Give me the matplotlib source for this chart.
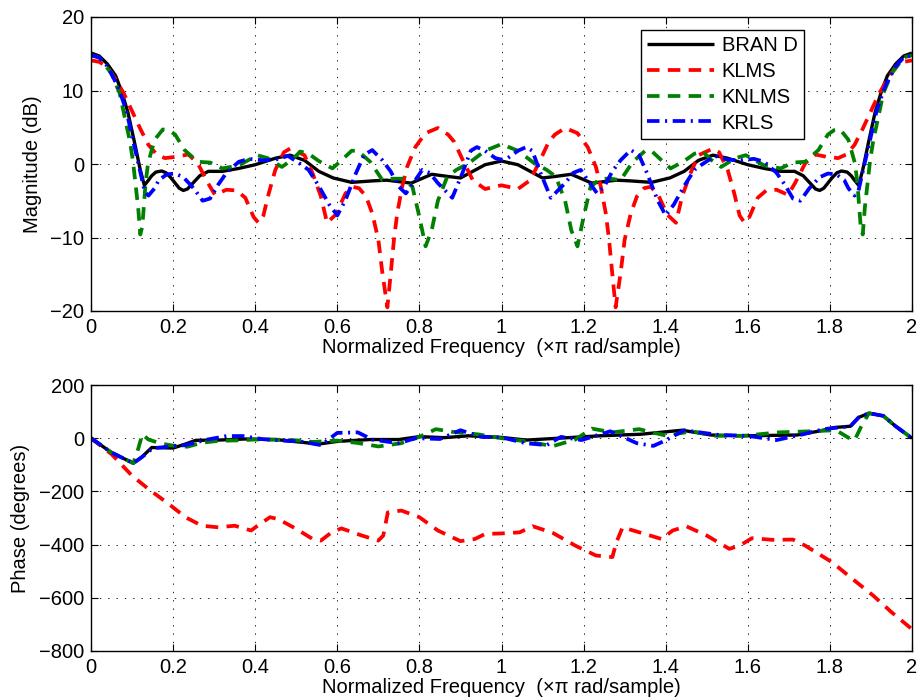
import matplotlib
matplotlib.use("Agg")
import matplotlib.pyplot as plt

plt.rcParams['font.family'] = ['Liberation Sans', 'DejaVu Sans']
plt.rcParams['lines.scale_dashes'] = False

series_names = ["BRAN D", "KLMS", "KNLMS", "KRLS"]

# ---------------- Magnitude (dB) ----------------
mag_x_brand = [0.00, 0.02, 0.04, 0.06, 0.075, 0.09, 0.105, 0.12, 0.13, 0.14, 0.148, 0.158, 0.172, 0.183,
               0.195, 0.205, 0.215, 0.225, 0.235, 0.245, 0.265, 0.286, 0.32, 0.36, 0.40, 0.45, 0.485,
               0.52, 0.555, 0.59, 0.635, 0.685, 0.72, 0.75, 0.78, 0.805, 0.83, 0.87, 0.90, 0.93,
               0.96, 1.00,
               1.04, 1.07, 1.10, 1.13, 1.17, 1.195, 1.22, 1.25, 1.28, 1.315, 1.365, 1.41, 1.445,
               1.48, 1.515, 1.55, 1.60, 1.64, 1.68, 1.714, 1.735, 1.755, 1.765, 1.775, 1.785, 1.795,
               1.805, 1.817, 1.828, 1.842, 1.852, 1.86, 1.87, 1.88, 1.895, 1.91, 1.925, 1.94, 1.96,
               1.98, 2.00]
mag_y_brand = [15.1, 14.7, 13.6, 12.0, 9.8, 7.0, 3.2, -0.8, -2.9, -2.2, -1.6, -1.1, -0.95, -1.2,
               -1.9, -2.6, -3.3, -3.6, -3.4, -2.8, -1.6, -1.0, -1.0, -0.6, -0.1, 0.8, 1.2,
               0.5, -1.0, -1.9, -2.5, -2.3, -2.2, -2.4, -2.6, -2.0, -1.4, -1.7, -1.9, -1.0,
               -0.1, 0.4,
               -0.1, -1.0, -1.9, -1.7, -1.4, -2.0, -2.6, -2.4, -2.2, -2.3, -2.5, -1.9, -1.0,
               0.5, 1.2, 0.8, -0.1, -0.6, -1.0, -1.0, -1.6, -2.8, -3.4, -3.6, -3.3, -2.6,
               -1.9, -1.2, -0.95, -1.1, -1.6, -2.2, -2.9, -0.8, 3.2, 7.0, 9.8, 12.0, 13.6,
               14.7, 15.1]

mag_x_klms = [0.00, 0.02, 0.04, 0.06, 0.08, 0.10, 0.12, 0.14, 0.16, 0.18, 0.21, 0.237, 0.26, 0.285,
              0.302, 0.33, 0.355, 0.376, 0.396, 0.408, 0.42, 0.433, 0.449, 0.47, 0.485, 0.52, 0.54,
              0.56, 0.575, 0.596, 0.62, 0.637, 0.653, 0.67, 0.685, 0.70, 0.71, 0.722, 0.73, 0.738,
              0.746, 0.758, 0.77, 0.79, 0.815, 0.845, 0.87, 0.885, 0.906, 0.93, 0.96, 1.00,
              1.04, 1.07, 1.094, 1.115, 1.13, 1.155, 1.185, 1.21, 1.23, 1.242, 1.254, 1.262, 1.27,
              1.278, 1.29, 1.30, 1.315, 1.33, 1.347, 1.363, 1.38, 1.404, 1.425, 1.44, 1.46, 1.48,
              1.515, 1.53, 1.551, 1.567, 1.58, 1.592, 1.604, 1.624, 1.645, 1.67, 1.698, 1.715,
              1.74, 1.763, 1.79, 1.82, 1.84, 1.86, 1.88, 1.90, 1.92, 1.94, 1.96, 1.98, 2.00]
mag_y_klms = [14.1, 13.9, 13.2, 11.5, 9.6, 7.2, 4.8, 2.6, 1.3, 0.8, 1.0, 1.3, 0.1, -2.6,
              -4.2, -3.5, -3.6, -4.6, -7.2, -8.0, -7.0, -4.0, -0.8, 1.6, 2.1, 1.2, -1.3,
              -4.4, -8.0, -6.9, -4.0, -3.1, -3.3, -4.4, -6.7, -10.3, -14.9, -19.5, -15.0, -10.3,
              -6.7, -3.1, -0.4, 2.3, 4.2, 4.9, 4.0, 3.0, 0.5, -2.2, -3.4, -2.9,
              -3.4, -2.2, 0.5, 3.0, 4.0, 4.9, 4.2, 2.3, -0.4, -3.1, -6.7, -10.3, -15.0,
              -19.5, -14.9, -10.3, -6.7, -4.4, -3.3, -3.1, -4.0, -6.9, -8.0, -4.4, -1.3, 1.2,
              2.1, 1.6, -0.8, -4.0, -7.0, -8.0, -7.2, -4.6, -3.6, -3.5, -4.2, -2.6,
              0.1, 1.3, 1.0, 0.8, 1.3, 2.6, 4.8, 7.2, 9.6, 11.5, 13.2, 13.9, 14.1]

mag_x_knlms = [0.00, 0.02, 0.05, 0.07, 0.082, 0.094, 0.102, 0.11, 0.115, 0.12, 0.125, 0.133, 0.139,
               0.155, 0.175, 0.19, 0.205, 0.228, 0.26, 0.29, 0.32, 0.36, 0.405, 0.43, 0.465, 0.49,
               0.51, 0.53, 0.555, 0.588, 0.61, 0.635, 0.65, 0.68, 0.71, 0.735, 0.76, 0.783, 0.80,
               0.815, 0.83, 0.845, 0.868, 0.89, 0.92, 0.96, 1.00,
               1.04, 1.08, 1.11, 1.132, 1.155, 1.17, 1.185, 1.20, 1.217, 1.24, 1.265, 1.29, 1.32,
               1.35, 1.365, 1.39, 1.412, 1.445, 1.47, 1.49, 1.51, 1.535, 1.57, 1.595, 1.64, 1.68,
               1.71, 1.74, 1.772, 1.795, 1.81, 1.825, 1.845, 1.861, 1.867, 1.875, 1.88, 1.885,
               1.89, 1.898, 1.906, 1.918, 1.93, 1.95, 1.98, 2.00]
mag_y_knlms = [14.8, 14.5, 12.3, 9.6, 6.4, 3.3, 0.5, -3.5, -6.0, -9.6, -8.5, -2.6, 0.1,
               3.3, 4.7, 4.6, 4.0, 1.9, 0.3, 0.2, -0.6, -0.2, 1.2, 0.8, -0.4, 0.6,
               1.7, 1.4, 0.4, -0.6, 0.5, 1.8, 1.8, 0.3, -2.2, -2.0, -2.0, -3.1, -7.2,
               -11.2, -9.0, -5.0, -1.7, -0.8, 0.1, 1.8, 2.7,
               1.8, 0.1, -0.8, -1.7, -5.0, -9.0, -11.2, -7.2, -3.1, -2.0, -2.0, -2.2, 0.3,
               1.8, 1.8, 0.5, -0.6, 0.4, 1.4, 1.7, 0.6, -0.4, 0.8, 1.2, -0.2, -0.6,
               0.2, 0.3, 1.9, 4.0, 4.6, 4.7, 3.3, 0.1, -2.6, -8.5, -9.6, -6.0,
               -3.5, 0.5, 3.3, 6.4, 9.6, 12.3, 14.5, 14.8]

mag_x_krls = [0.00, 0.02, 0.04, 0.066, 0.086, 0.102, 0.119, 0.131, 0.14, 0.155, 0.165, 0.185, 0.205,
              0.225, 0.25, 0.272, 0.29, 0.31, 0.33, 0.36, 0.385, 0.42, 0.45, 0.48, 0.51, 0.53,
              0.555, 0.58, 0.60, 0.62, 0.645, 0.665, 0.685, 0.71, 0.73, 0.75, 0.767, 0.79, 0.807,
              0.825, 0.845, 0.88, 0.905, 0.925, 0.94, 0.96, 0.985, 1.00,
              1.015, 1.04, 1.06, 1.075, 1.095, 1.12, 1.155, 1.175, 1.193, 1.21, 1.233, 1.25, 1.27,
              1.29, 1.315, 1.335, 1.355, 1.38, 1.40, 1.42, 1.445, 1.47, 1.49, 1.52, 1.55, 1.58,
              1.615, 1.64, 1.67, 1.69, 1.71, 1.728, 1.75, 1.775, 1.795, 1.815, 1.835, 1.845, 1.86,
              1.869, 1.881, 1.898, 1.914, 1.934, 1.96, 1.98, 2.00]
mag_y_krls = [14.8, 14.5, 13.3, 10.5, 7.3, 3.3, -0.8, -3.8, -4.3, -3.3, -2.2, -1.4, -1.3,
              -1.8, -3.3, -5.0, -4.7, -2.8, -1.2, 0.3, 0.7, 0.5, 0.6, 1.1, 0.0, -0.8,
              -3.0, -5.5, -7.0, -4.9, -1.3, 1.2, 1.9, 0.5, -1.0, -3.1, -4.0, -2.2, -0.8,
              -1.2, -2.6, -4.6, -1.2, 1.8, 2.3, 1.8, 0.8, 0.6,
              0.8, 1.8, 2.3, 1.8, -1.2, -4.6, -2.6, -1.2, -0.8, -2.2, -4.0, -3.1, -1.0,
              0.5, 1.9, 1.2, -1.3, -4.9, -7.0, -5.5, -3.0, -0.8, 0.0, 1.1, 0.6, 0.5,
              0.7, 0.3, -1.2, -2.8, -4.7, -5.0, -3.3, -1.8, -1.3, -1.4, -2.2, -3.3, -4.3,
              -3.8, -0.8, 3.3, 7.3, 10.5, 13.3, 14.5, 14.8]

# ---------------- Phase (degrees) ----------------
ph_x_brand = [0.00, 0.05, 0.103, 0.123, 0.148, 0.20, 0.23, 0.255, 0.31, 0.375, 0.45, 0.505, 0.555,
              0.60, 0.68, 0.75, 0.80, 0.86, 0.92, 1.00, 1.06, 1.14, 1.24, 1.34, 1.44, 1.51, 1.59,
              1.72, 1.775, 1.81, 1.85, 1.87, 1.895, 1.93, 1.96, 2.00]
ph_y_brand = [0, -54, -94, -72, -35, -37, -22, -8, -7, -3, -5, -14, -22,
              -12, -5, -5, 6, 2, 9, 3, -7, 0, 9, 15, 30, 12, 9,
              12, 27, 40, 45, 78, 94, 84, 45, 0]

ph_x_klms = [0.00, 0.05, 0.10, 0.14, 0.19, 0.23, 0.27, 0.31, 0.35, 0.39, 0.405, 0.436, 0.456, 0.50,
             0.54, 0.56, 0.586, 0.61, 0.66, 0.70, 0.712, 0.723, 0.756, 0.80, 0.845, 0.90, 0.935,
             0.96, 1.00, 1.044, 1.076, 1.125, 1.18, 1.23, 1.27, 1.28, 1.295, 1.336, 1.39, 1.417,
             1.45, 1.50, 1.555, 1.58, 1.61, 1.66, 1.71, 1.74, 1.805, 1.855, 1.905, 1.95, 2.00]
ph_y_klms = [0, -60, -141, -191, -248, -297, -329, -335, -329, -347, -330, -297, -304, -341,
             -379, -385, -354, -339, -366, -385, -366, -279, -272, -297, -347, -387, -379,
             -360, -358, -354, -331, -356, -404, -441, -447, -391, -335, -354, -379, -347,
             -331, -366, -416, -404, -376, -382, -381, -404, -466, -529, -591, -654, -718]

ph_x_knlms = [0.00, 0.05, 0.103, 0.115, 0.125, 0.14, 0.17, 0.20, 0.235, 0.27, 0.31, 0.36, 0.40,
              0.47, 0.50, 0.54, 0.60, 0.65, 0.70, 0.755, 0.80, 0.84, 0.88, 0.945, 1.00, 1.06,
              1.125, 1.18, 1.22, 1.27, 1.335, 1.40, 1.465, 1.52, 1.59, 1.675, 1.735, 1.815,
              1.845, 1.86, 1.875, 1.895, 1.93, 1.96, 2.00]
ph_y_knlms = [0, -54, -94, -40, 15, -5, -20, -28, -32, -17, -10, -8, -5,
              -6, -8, -14, -9, -18, -31, -19, 5, 34, 24, 14, 0, -12,
              -30, -5, 36, 22, 34, 10, 26, 9, 9, 22, 25, 30,
              2, -8, 40, 94, 84, 45, 0]

ph_x_krls = [0.00, 0.05, 0.103, 0.125, 0.15, 0.20, 0.23, 0.28, 0.33, 0.37, 0.42, 0.48, 0.51, 0.56,
             0.60, 0.65, 0.685, 0.75, 0.79, 0.85, 0.90, 0.95, 1.00, 1.06, 1.11, 1.145, 1.195,
             1.265, 1.33, 1.37, 1.40, 1.445, 1.53, 1.60, 1.67, 1.735, 1.785, 1.85, 1.87, 1.895,
             1.93, 1.96, 2.00]
ph_y_krls = [0, -54, -94, -70, -38, -30, -26, -6, 8, 8, -4, -10, -12, -26,
             20, 22, -5, -19, 0, -3, 30, 5, 3, -19, -26, 5, -7,
             26, -19, -29, -8, 30, 12, 9, -7, 15, 34, 45, 78, 94,
             84, 45, 0]

x_ticks = [0, 0.2, 0.4, 0.6, 0.8, 1.0, 1.2, 1.4, 1.6, 1.8, 2.0]
x_tick_labels = ["0", "0.2", "0.4", "0.6", "0.8", "1", "1.2", "1.4", "1.6", "1.8", "2"]
mag_ticks = [-20, -10, 0, 10, 20]
ph_ticks = [-800, -600, -400, -200, 0, 200]
xlabel_text = "Normalized Frequency  (\u00d7\u03c0 rad/sample)"

styles = [
    dict(color="black", lw=2.4, linestyle="-"),
    dict(color=(1, 0, 0), lw=2.7, linestyle=(0, (9, 6))),
    dict(color=(0, 0.5, 0), lw=2.7, linestyle=(0, (9, 6))),
    dict(color=(0, 0, 1), lw=2.7, linestyle=(0, (9, 4, 1.5, 4))),
]

fig = plt.figure(figsize=(9.18, 7.0), dpi=100)
ax1 = fig.add_axes([91 / 918, 1 - 311 / 700, 821 / 918, 294 / 700])
ax2 = fig.add_axes([91 / 918, 1 - 651 / 700, 821 / 918, 266 / 700])

mag_data = [(mag_x_brand, mag_y_brand), (mag_x_klms, mag_y_klms),
            (mag_x_knlms, mag_y_knlms), (mag_x_krls, mag_y_krls)]
ph_data = [(ph_x_brand, ph_y_brand), (ph_x_klms, ph_y_klms),
           (ph_x_knlms, ph_y_knlms), (ph_x_krls, ph_y_krls)]

for (x, y), st, name in zip(mag_data, styles, series_names):
    ax1.plot(x, y, label=name, solid_capstyle="butt", dash_capstyle="butt",
             solid_joinstyle="round", dash_joinstyle="round", **st)
for (x, y), st in zip(ph_data, styles):
    ax2.plot(x, y, solid_capstyle="butt", dash_capstyle="butt",
             solid_joinstyle="round", dash_joinstyle="round", **st)

fs = 14.5
for ax, yt, ylim, ylab in [(ax1, mag_ticks, (-20, 20), "Magnitude (dB)"),
                           (ax2, ph_ticks, (-800, 200), "Phase (degrees)")]:
    ax.set_xlim(0, 2)
    ax.set_ylim(*ylim)
    ax.set_xticks(x_ticks)
    ax.set_xticklabels(x_tick_labels)
    ax.set_yticks(yt)
    ax.set_yticklabels([str(v).replace("-", "\u2212") for v in yt])
    ax.grid(True, color="black", linestyle=(0, (1, 5)), linewidth=0.6)
    ax.tick_params(direction="in", top=True, right=True, length=5, width=0.8,
                   labelsize=fs, pad=5)
    for sp in ax.spines.values():
        sp.set_linewidth(1.0)
    ax.set_xlabel(xlabel_text, fontsize=fs, labelpad=1)
    ax.set_ylabel(ylab, fontsize=fs, labelpad=6)

leg = ax1.legend(loc="upper left", bbox_to_anchor=(0.67, 0.956), fontsize=fs,
                 frameon=True, fancybox=False, framealpha=1, edgecolor="black",
                 handlelength=3.3, handletextpad=0.4, labelspacing=0.34,
                 borderpad=0.3, borderaxespad=0)
leg.get_frame().set_linewidth(1.0)

fig.savefig("out.png", dpi=100)
